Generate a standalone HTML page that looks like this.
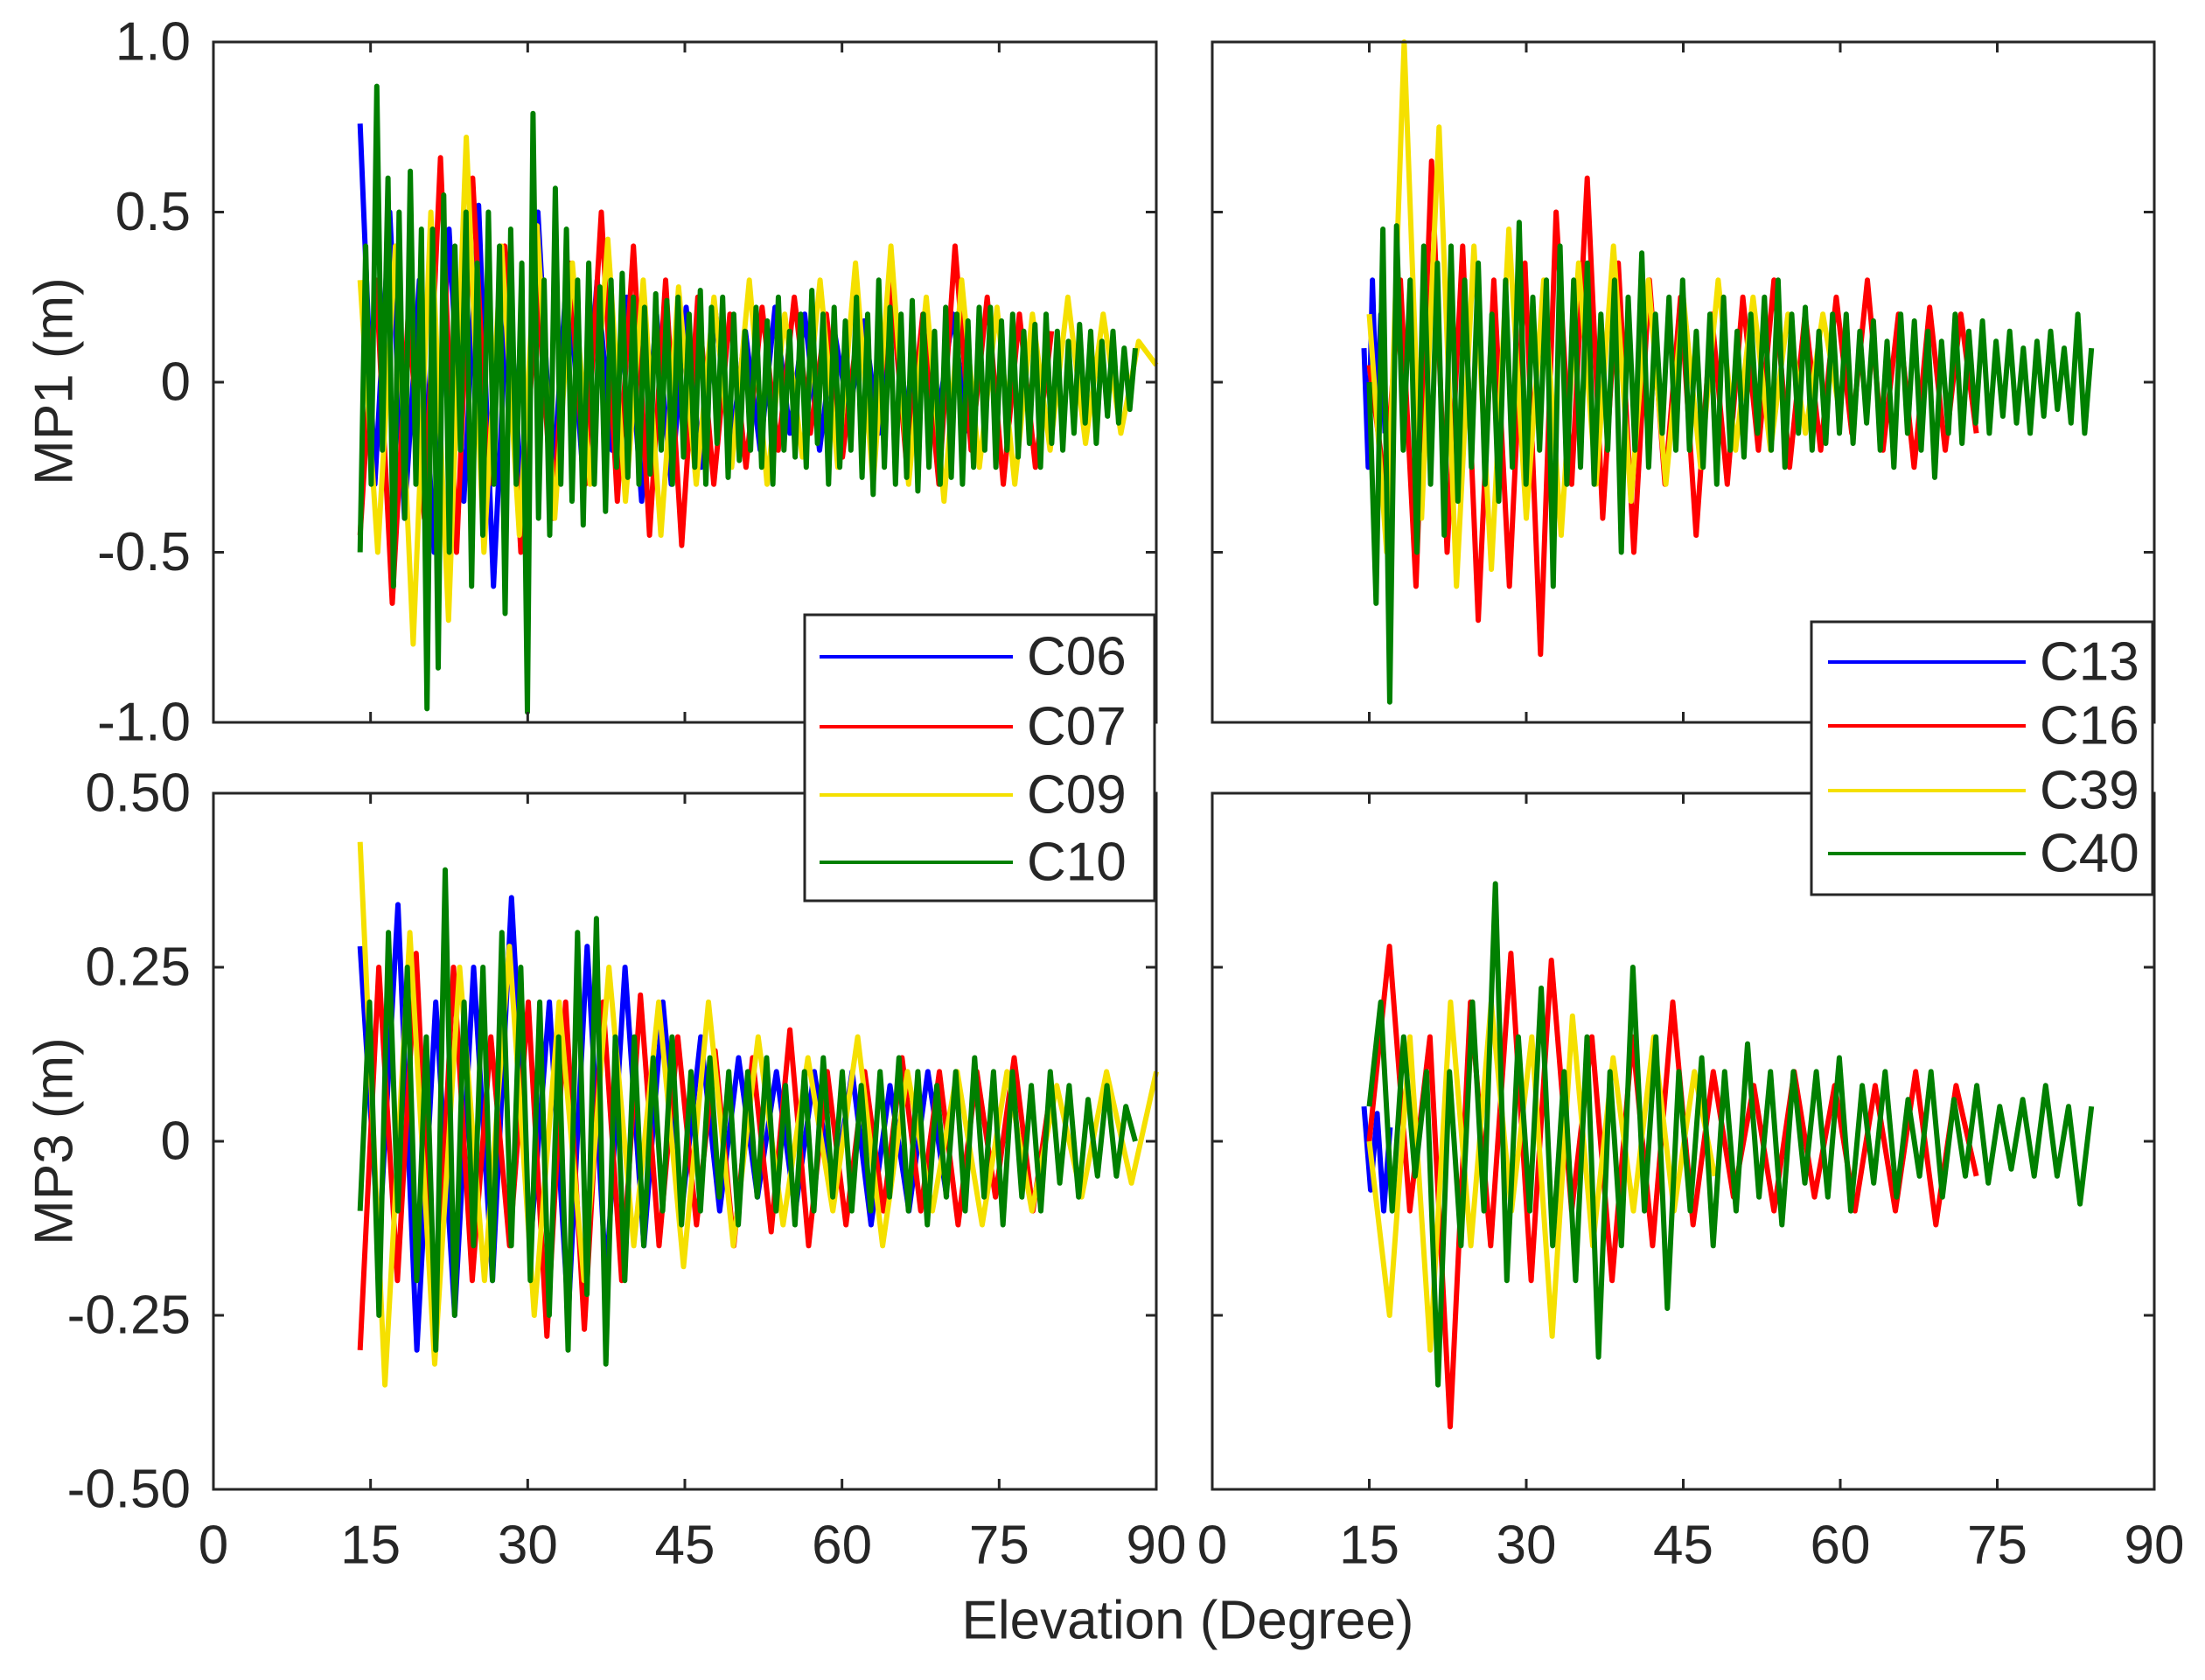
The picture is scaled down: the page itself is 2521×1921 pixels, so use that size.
<!DOCTYPE html>
<html><head><meta charset="utf-8">
<style>
html,body{margin:0;padding:0;background:#fff;}
svg{display:block;}
text{font-family:"Liberation Sans",sans-serif;fill:#262626;}
</style></head>
<body>
<svg id="chart" width="2521" height="1921" viewBox="0 0 2521 1921" xmlns="http://www.w3.org/2000/svg"></svg>
<script>
// ---- data ----
const xTicks = [0,15,30,45,60,75,90];
const mp1Ticks = [1.0,0.5,0,-0.5,-1.0];
const mp1TickLabels = ["1.0","0.5","0","-0.5","-1.0"];
const mp3Ticks = [0.5,0.25,0,-0.25,-0.5];
const mp3TickLabels = ["0.50","0.25","0","-0.25","-0.50"];
const leftNames = ["C06","C07","C09","C10"];
const rightNames = ["C13","C16","C39","C40"];
const seriesColors = ["#0000ff","#ff0000","#f5e000","#008000"];
const mp1LeftRange = [[14,72],[14,80],[14,90],[14,88]];
const mp1RightRange = [[14.5,16.5],[15,73],[15,60],[15,84]];
const mp3LeftRange = [[14,70],[14,80],[14,90],[14,88]];
const mp3RightRange = [[14.5,17],[15,73],[15,48],[15,84]];
// MP1 left
const mp1C06 = [0.76,-0.3,0.5,-0.4,0.3,-0.5,0.45,-0.35,0.52,-0.6,0.3,-0.4,0.5,-0.3,0.35,-0.25,0.3,-0.2,0.25,-0.35,0.2,-0.3,0.22,-0.25,0.2,-0.2,0.15,-0.2,0.22,-0.15,0.2,-0.2,0.15,-0.1,0.18,-0.15,0.22,-0.12,0.15,-0.1,0.2,-0.15];
const mp1C07 = [-0.45,0.3,-0.65,0.2,-0.4,0.66,-0.5,0.6,-0.3,0.4,-0.5,0.3,-0.4,0.35,-0.3,0.5,-0.35,0.4,-0.45,0.3,-0.48,0.25,-0.3,0.2,-0.25,0.22,-0.2,0.25,-0.15,0.2,-0.22,0.18,-0.2,0.3,-0.25,0.2,-0.3,0.4,-0.2,0.25,-0.3,0.2,-0.25,0.15];
const mp1C09 = [0.3,-0.5,0.4,-0.77,0.5,-0.7,0.72,-0.5,0.4,-0.45,0.46,-0.4,0.35,-0.3,0.42,-0.35,0.3,-0.45,0.28,-0.3,0.25,-0.25,0.3,-0.3,0.2,-0.22,0.3,-0.25,0.35,-0.3,0.4,-0.3,0.25,-0.35,0.3,-0.25,0.22,-0.3,0.2,-0.2,0.25,-0.18,0.2,-0.15,0.12,0.05];
const mp1C10 = [-0.5,0.4,-0.3,0.87,-0.2,0.6,-0.6,0.5,-0.4,0.62,-0.3,0.45,-0.96,0.45,-0.84,0.55,-0.5,0.4,-0.2,0.5,-0.6,0.35,-0.45,0.5,-0.3,0.4,-0.68,0.45,-0.3,0.35,-0.97,0.79,-0.4,0.3,-0.45,
0.57,-0.3,0.45,-0.35,0.3,-0.42,0.35,-0.3,0.28,-0.38,0.3,-0.25,0.32,-0.28,0.25,-0.3,0.22,-0.27,0.26,-0.2,0.24,-0.3,0.25,-0.22,0.2,
-0.25,0.27,-0.3,0.22,-0.18,0.25,-0.28,0.2,-0.23,0.15,-0.2,0.22,-0.25,0.18,-0.3,0.25,-0.2,0.15,-0.22,0.2,-0.25,0.27,-0.18,0.2,-0.3,0.22,-0.25,0.18,-0.2,0.25,-0.28,0.2,-0.33,0.3,-0.25,0.22,-0.3,0.2,-0.28,0.24,-0.32,0.2,-0.25,0.15,-0.3,0.22,-0.28,0.2,-0.3,0.18,-0.25,0.22,-0.2,0.22,-0.25,0.18,-0.2,0.2,-0.22,0.15,-0.18,0.17,-0.25,0.2,-0.18,0.15,-0.2,0.12,-0.15,0.17,-0.12,0.15,-0.18,0.12,-0.1,0.15,-0.12,0.1,-0.08,0.1];
// MP1 right
const mp1C13 = [0.1,-0.25,0.3,-0.1,0.2,-0.15];
const mp1C16 = [0.05,-0.3,0.3,-0.6,0.65,-0.5,0.4,-0.7,0.3,-0.6,0.35,-0.8,0.5,-0.3,0.6,-0.4,0.35,-0.5,0.3,-0.3,0.25,-0.45,0.2,-0.3,0.25,-0.2,0.3,-0.25,0.2,-0.2,0.25,-0.15,0.3,-0.2,0.2,-0.25,0.22,-0.2,0.2,-0.15];
const mp1C39 = [0.2,-0.5,1.0,-0.4,0.75,-0.6,0.4,-0.55,0.45,-0.4,0.3,-0.45,0.35,-0.3,0.4,-0.35,0.3,-0.3,0.25,-0.25,0.3,-0.2,0.25,-0.2,0.2,-0.15,0.2,-0.1];
const mp1C40 = [0.0,-0.65,0.45,-0.94,0.46,-0.2,0.3,-0.5,0.4,-0.3,0.35,-0.45,0.4,-0.35,0.3,-0.25,0.35,-0.3,0.2,-0.35,0.3,-0.25,0.47,-0.3,0.25,-0.2,0.3,-0.6,0.4,-0.3,0.3,-0.25,0.35,-0.3,0.2,-0.2,0.3,-0.5,0.25,-0.2,0.38,-0.25,0.2,-0.15,0.25,-0.2,0.3,-0.2,0.15,-0.25,0.2,-0.3,0.25,-0.2,0.15,-0.22,0.2,-0.15,0.25,-0.2,0.3,-0.25,0.2,-0.15,0.22,-0.2,0.15,-0.18,0.2,-0.15,0.2,-0.18,0.15,-0.12,0.18,-0.2,0.12,-0.25,0.2,-0.15,0.18,-0.2,0.15,-0.28,0.12,-0.15,0.2,-0.18,0.15,-0.12,0.18,-0.15,0.12,-0.1,0.15,-0.12,0.1,-0.15,0.12,-0.1,0.15,-0.08,0.1,-0.12,0.2,-0.15,0.1];
// MP3 left
const mp3C06 = [0.28,-0.15,0.34,-0.3,0.2,-0.25,0.25,-0.2,0.35,-0.15,0.2,-0.25,0.28,-0.2,0.25,-0.15,0.2,-0.1,0.15,-0.1,0.12,-0.08,0.1,-0.1,0.1,-0.08,0.1,-0.12,0.08,-0.1,0.1,-0.08];
const mp3C07 = [-0.3,0.25,-0.2,0.27,-0.3,0.25,-0.2,0.15,-0.15,0.2,-0.28,0.2,-0.27,0.2,-0.2,0.21,-0.15,0.15,-0.12,0.13,-0.15,0.12,-0.13,0.16,-0.15,0.1,-0.12,0.1,-0.1,0.12,-0.1,0.1,-0.12,0.1,-0.08,0.12,-0.1,0.08];
const mp3C09 = [0.43,-0.35,0.3,-0.32,0.25,-0.2,0.28,-0.25,0.2,-0.2,0.25,-0.15,0.2,-0.18,0.2,-0.15,0.15,-0.12,0.12,-0.1,0.15,-0.15,0.1,-0.1,0.1,-0.12,0.1,-0.1,0.08,-0.08,0.1,-0.06,0.1];
const mp3C10 = [-0.1,0.2,-0.25,0.3,-0.1,0.25,-0.2,0.15,-0.3,0.39,-0.25,0.2,-0.15,0.25,-0.2,0.3,-0.15,0.25,-0.2,0.2,-0.25,0.15,-0.3,0.3,-0.22,0.32,-0.32,0.15,-0.2,0.15,-0.15,0.12,-0.1,0.15,-0.12,0.1,-0.1,0.12,-0.08,0.1,-0.12,0.1,-0.08,0.12,-0.1,0.08,-0.12,0.1,-0.1,0.12,-0.08,0.1,-0.1,0.08,-0.1,0.1,-0.08,0.12,-0.1,0.1,-0.12,0.08,-0.08,0.1,-0.1,0.12,-0.08,0.1,-0.12,0.1,-0.08,0.08,-0.1,0.1,-0.06,0.08,-0.08,0.06,-0.05,0.08,-0.05,0.05,0.0];
// MP3 right
const mp3C13 = [0.05,-0.07,0.04,-0.1,0.02];
const mp3C16 = [0.0,0.28,-0.1,0.15,-0.41,0.2,-0.15,0.27,-0.2,0.26,-0.1,0.15,-0.2,0.15,-0.15,0.2,-0.12,0.1,-0.08,0.08,-0.1,0.1,-0.08,0.08,-0.1,0.08,-0.1,0.1,-0.12,0.08,-0.05];
const mp3C39 = [0.0,-0.25,0.15,-0.3,0.2,-0.15,0.2,-0.1,0.15,-0.28,0.18,-0.15,0.12,-0.1,0.15,-0.1,0.1,-0.05];
const mp3C40 = [0.05,0.2,-0.1,0.15,-0.05,0.1,-0.35,0.1,-0.15,0.2,-0.1,0.37,-0.2,0.15,-0.1,0.22,-0.15,0.1,-0.2,0.15,-0.31,0.1,-0.15,0.25,-0.1,0.15,-0.24,0.1,-0.1,0.12,-0.15,0.1,-0.1,0.14,-0.08,0.1,-0.12,0.1,-0.06,0.1,-0.08,0.12,-0.1,0.08,-0.06,0.1,-0.08,0.06,-0.05,0.1,-0.08,0.06,-0.05,0.08,-0.06,0.05,-0.04,0.06,-0.05,0.08,-0.05,0.05,-0.09,0.05];

const NS = "http://www.w3.org/2000/svg";
const svg = document.getElementById('chart');
function mk(tag, attrs, parent){
  const e = document.createElementNS(NS, tag);
  for (const k in attrs) e.setAttribute(k, attrs[k]);
  (parent||svg).appendChild(e);
  return e;
}
const panels = [
  {name:'mp1-left', x0:244, x1:1322, y0:48, y1:826, ymin:-1, ymax:1, ticks:mp1Ticks, labels:mp1TickLabels, xlab:false, names:leftNames, ranges:mp1LeftRange, data:[mp1C06,mp1C07,mp1C09,mp1C10]},
  {name:'mp1-right', x0:1386, x1:2463, y0:48, y1:826, ymin:-1, ymax:1, ticks:mp1Ticks, labels:null, xlab:false, names:rightNames, ranges:mp1RightRange, data:[mp1C13,mp1C16,mp1C39,mp1C40]},
  {name:'mp3-left', x0:244, x1:1322, y0:907, y1:1703, ymin:-0.5, ymax:0.5, ticks:mp3Ticks, labels:mp3TickLabels, xlab:true, names:leftNames, ranges:mp3LeftRange, data:[mp3C06,mp3C07,mp3C09,mp3C10]},
  {name:'mp3-right', x0:1386, x1:2463, y0:907, y1:1703, ymin:-0.5, ymax:0.5, ticks:mp3Ticks, labels:null, xlab:true, names:rightNames, ranges:mp3RightRange, data:[mp3C13,mp3C16,mp3C39,mp3C40]}
];
panels.forEach(p=>{
  const g = mk('g',{});
  
  
  const xs = v => p.x0 + (v-0)/90*(p.x1-p.x0);
  const ys = v => p.y1 - (v-p.ymin)/(p.ymax-p.ymin)*(p.y1-p.y0);
  p.data.forEach((arr,si)=>{
    const [a,b] = p.ranges[si];
    const pts = arr.map((v,i)=> xs(a + (b-a)*i/(arr.length-1)).toFixed(1)+','+ys(v).toFixed(1)).join(' ');
    const pl = mk('polyline',{points:pts, fill:'none', stroke:seriesColors[si], 'stroke-width':6, 'stroke-linejoin':'round'}, g);
    
    
  });
  const fr = mk('rect',{x:p.x0,y:p.y0,width:p.x1-p.x0,height:p.y1-p.y0,fill:'none',stroke:'#262626','stroke-width':3}, g);
  
  
  xTicks.forEach(t=>{
    const x = xs(t);
    mk('line',{x1:x,x2:x,y1:p.y1,y2:p.y1-12,stroke:'#262626','stroke-width':3},g);
    mk('line',{x1:x,x2:x,y1:p.y0,y2:p.y0+12,stroke:'#262626','stroke-width':3},g);
    if (p.xlab){
      const tx = mk('text',{x:x,y:1767,'font-size':62,'text-anchor':'middle','dominant-baseline':'central'},g);
      tx.textContent = String(t);
      
      
    }
  });
  p.ticks.forEach((t,i)=>{
    const y = ys(t);
    mk('line',{x1:p.x0,x2:p.x0+12,y1:y,y2:y,stroke:'#262626','stroke-width':3},g);
    mk('line',{x1:p.x1,x2:p.x1-12,y1:y,y2:y,stroke:'#262626','stroke-width':3},g);
    if (p.labels){
      const ty = mk('text',{x:218,y:y,'font-size':62,'text-anchor':'end','dominant-baseline':'central'},g);
      ty.textContent = p.labels[i];
      
      
    }
  });
});
const t1 = mk('text',{x:0,y:0,'font-size':62,'text-anchor':'middle','dominant-baseline':'central',transform:'translate(62,436) rotate(-90)'});
t1.textContent = 'MP1 (m)';


const t2 = mk('text',{x:0,y:0,'font-size':62,'text-anchor':'middle','dominant-baseline':'central',transform:'translate(62,1305) rotate(-90)'});
t2.textContent = 'MP3 (m)';


const t3 = mk('text',{x:1358,y:1853,'font-size':62,'text-anchor':'middle','dominant-baseline':'central'});
t3.textContent = 'Elevation (Degree)';


const legends = [
  {name:'left-legend', x0:920, x1:1320, y0:703, y1:1030, ys:[751,831,909,986], lx0:937, lx1:1158, tx:1174, names:leftNames},
  {name:'right-legend', x0:2071, x1:2461, y0:711, y1:1023, ys:[757,830,904,976], lx0:2090, lx1:2316, tx:2332, names:rightNames}
];
legends.forEach(L=>{
  const g = mk('g',{});
  
  
  mk('rect',{x:L.x0,y:L.y0,width:L.x1-L.x0,height:L.y1-L.y0,fill:'#fff',stroke:'#262626','stroke-width':3},g);
  L.names.forEach((n,i)=>{
    const e = mk('g',{},g);
    
    
    mk('line',{x1:L.lx0,x2:L.lx1,y1:L.ys[i],y2:L.ys[i],stroke:seriesColors[i],'stroke-width':4},e);
    const t = mk('text',{x:L.tx,y:L.ys[i],'font-size':62,'dominant-baseline':'central'},e);
    t.textContent = n;
  });
});
</script>
</body></html>
